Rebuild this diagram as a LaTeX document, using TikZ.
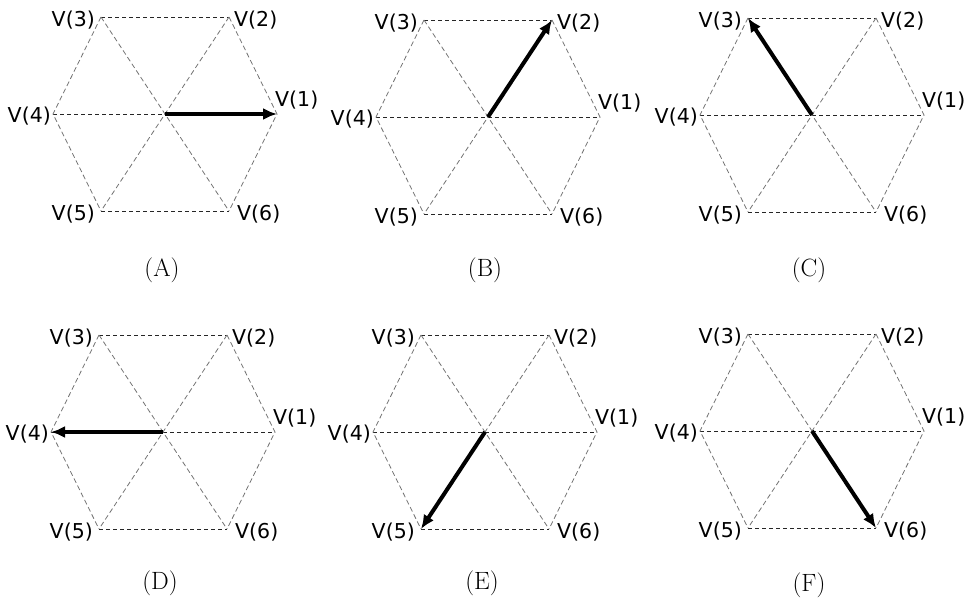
\documentclass[tikz,border=0pt]{standalone}
\usepackage{fontspec}
\newfontfamily\lblfont{DejaVu Sans}
\usetikzlibrary{arrows.meta}
\begin{document}
\begin{tikzpicture}[x=1pt,y=-1pt,
 hdash/.style={draw=black!85, line width=0.8pt, dash pattern=on 4pt off 3pt},
 sdash/.style={draw=black!55, line width=0.8pt, dash pattern=on 5pt off 3pt},
 vlbl/.style={font=\lblfont\fontsize{20.5}{24}\selectfont, inner sep=0pt},
 capt/.style={font=\fontsize{25}{29}\selectfont, inner sep=0pt},
 vec/.style={line width=4pt, -{Latex[length=14pt,width=12pt]}}]
\useasboundingbox (0,0) rectangle (975,599);
\newcommand\hexpanel[6]{%
 \begin{scope}[shift={(#2,#3)}]
  \coordinate (#1c) at (0,0);
  \coordinate (#11) at (112,0);
  \coordinate (#12) at (64,-97);
  \coordinate (#13) at (-64,-97);
  \coordinate (#14) at (-112,0);
  \coordinate (#15) at (-64,97);
  \coordinate (#16) at (64,97);
  \draw[hdash] (#13) -- (#12);
  \draw[hdash] (#15) -- (#16);
  \draw[hdash] (#14) -- (#11);
  \draw[sdash] (#12) -- (#11) -- (#16);
  \draw[sdash] (#13) -- (#14) -- (#15);
  \draw[sdash] (#12) -- (#15);
  \draw[sdash] (#13) -- (#16);
  \draw[vec] (#1c) -- (#1#5);
  \node[vlbl, anchor=west] (#1v1) at ([shift={(-2,-14)}]#11) {V(1)};
  \node[vlbl, anchor=west] (#1v2) at ([shift={(5,3)}]#12) {V(2)};
  \node[vlbl, anchor=east] (#1v3) at ([shift={(-6,3)}]#13) {V(3)};
  \node[vlbl, anchor=east] (#1v4) at ([shift={(-2,2)}]#14) {V(4)};
  \node[vlbl, anchor=east] (#1v5) at ([shift={(-6,3)}]#15) {V(5)};
  \node[vlbl, anchor=west] (#1v6) at ([shift={(8,3)}]#16) {V(6)};
  \node[capt] (#1cap) at (-3,#6) {#4};
 \end{scope}}
\hexpanel{A}{165}{114}{(A)}{1}{156}
\hexpanel{B}{488}{117}{(B)}{2}{153}
\hexpanel{C}{812}{115}{(C)}{3}{155}
\hexpanel{D}{163}{432}{(D)}{4}{151}
\hexpanel{E}{485}{432}{(E)}{5}{151}
\hexpanel{F}{812}{431}{(F)}{6}{154}
\end{tikzpicture}
\end{document}
